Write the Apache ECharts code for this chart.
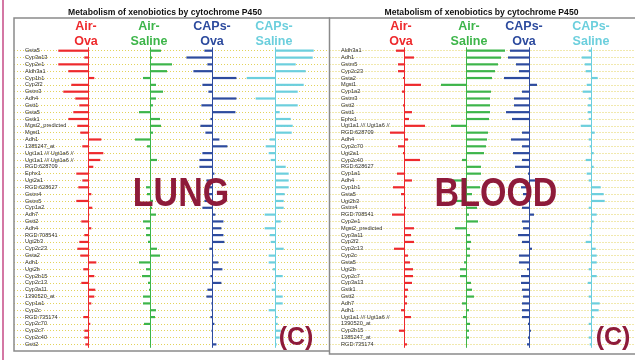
<!DOCTYPE html>
<html><head><meta charset="utf-8">
<script src="https://cdn.jsdelivr.net/npm/echarts@6/dist/echarts.min.js"></script>
<style>html,body{margin:0;padding:0;background:#fff}#c{width:635px;height:360px}</style>
</head><body><div id="c"></div>
<script>
const lungGenes = ['Gsta5','Cyp3a13','Cyp2e1','Aldh3a1','Cyp1b1','Cyp2f2','Gstm3','Adh4','Gstt1','Gsta5','Gstk1','Mgst2_predicted','Mgst1','Adh1','1385247_at','Ugt1a1 /// Ugt1a6 //','Ugt1a1 /// Ugt1a6 //','RGD:628709','Ephx1','Ugt2a1','RGD:628627','Gstm4','Gstm5','Cyp1a2','Adh7','Gstt2','Adh4','RGD:708541','Ugt2b3','Cyp2c23','Gsta2','Adh1','Ugt2b','Cyp2b15','Cyp2c13','Cyp3a11','1390520_at','Cyp1a1','Cyp2c','RGD:735174','Cyp2c70','Cyp2c7','Cyp2c40','Gstt2'];
const lungAirOva = [-3.0,-0.4,-3.0,-2.0,0.6,-1.7,-2.5,-1.3,-0.9,-1.5,-2.0,-1.1,-0.8,1.3,-0.6,1.5,1.2,0.5,-1.2,-0.6,-1.0,0.3,-1.2,0.4,0.1,-0.7,0.3,-0.4,-0.9,-1.1,-0.8,0.8,-0.5,0.6,-0.7,0.7,0.6,0.3,0.1,-0.5,0.2,-0.4,-0.4,-0.3];
const lungAirSaline = [1.1,0.2,2.2,1.7,-0.7,0.6,1.3,0.6,0.3,-1.1,1.0,1.1,0.3,-1.5,-0.3,0.1,0.7,0.1,0.1,0.1,-0.4,-0.3,0.3,0.2,0.6,-0.7,-0.4,-0.4,-0.2,0.7,1.0,-1.1,-0.4,-0.8,-0.2,-0.1,-0.7,-0.7,0.6,0.5,-0.6,0.1,0.1,0.05];
const lungCapsOva = [-0.8,-2.6,-0.5,-1.9,2.4,-1.0,-0.4,2.4,-1.1,2.3,-0.2,-1.2,-0.7,0.7,1.5,-1.0,-1.3,-1.3,0.2,-0.6,-0.6,-0.4,-0.8,-1.0,0.3,1.1,0.9,1.1,1.2,-0.3,0.1,0.6,1.0,-0.2,0.9,-0.5,-0.6,-0.1,-0.1,-0.2,0.2,-0.1,-0.05,0.4];
const lungCapsSaline = [3.8,3.7,2.0,3.0,-2.9,2.8,2.2,-2.0,2.2,0.4,1.5,1.7,1.6,-0.6,-1.0,-0.7,-0.5,1.0,1.3,1.3,1.3,0.9,0.8,0.8,-1.1,0.5,-1.1,-0.6,-0.5,0.8,-0.7,-0.7,-0.3,0.7,-0.2,-0.4,0.7,0.7,-0.7,0.2,0.2,0.5,0.4,0.1];
const bloodGenes = ['Aldh3a1','Adh1','Gstm5','Cyp2c23','Gsta2','Mgst1','Cyp1a2','Gstm3','Gstt2','Gstt1','Ephx1','Ugt1a1 /// Ugt1a6 //','RGD:628709','Adh4','Cyp2c70','Ugt2a1','Cyp2c40','RGD:628627','Cyp1a1','Adh4','Cyp1b1','Gsta5','Ugt2b3','Gstm4','RGD:708541','Cyp2e1','Mgst2_predicted','Cyp3a11','Cyp2f2','Cyp2c13','Cyp2c','Gsta5','Ugt2b','Cyp2c7','Cyp3a13','Gstk1','Gstt2','Adh7','Adh1','Ugt1a1 /// Ugt1a6 //','1390520_at','Cyp2b15','1385247_at','RGD:735174'];
const bloodAirOva = [-0.8,1.0,-0.6,-0.6,-0.1,1.7,-0.2,0.1,-0.1,0.8,0.5,2.1,-1.4,0.4,-0.6,-0.1,1.6,0.1,-0.7,0.8,-1.1,-0.3,0.1,0.2,-1.2,0.1,1.0,0.7,1.0,-1.0,0.4,0.6,0.9,0.9,0.8,0.4,0.3,0.3,-0.3,0.7,0.1,-0.5,0.1,0.3];
const bloodAirSaline = [3.9,3.5,3.2,2.9,2.6,-2.5,2.5,2.4,2.4,2.4,2.3,-1.5,2.2,2.1,2.0,1.8,-0.4,1.5,1.5,-1.4,1.4,0.6,-1.0,1.1,0.3,1.2,-1.1,0.4,0.5,0.4,0.4,-0.2,-0.6,-0.6,0.5,0.6,0.8,-0.4,0.3,-0.3,0.4,0.3,0.3,0.1];
const bloodCapsOva = [-1.9,-2.1,-1.3,-1.0,-2.5,0.8,-0.7,-1.5,-1.5,-2.3,-1.7,0.1,-0.7,-1.8,-0.7,-1.6,-0.7,-1.4,-0.1,0.6,-0.8,-0.6,-0.4,-0.7,0.5,-0.7,-0.6,-1.1,-0.7,0.3,-1.0,-1.0,-0.2,-0.8,-0.8,-0.7,-0.6,-0.7,-0.7,-0.7,-0.1,0.2,-0.1,-0.2];
const bloodCapsSaline = [-0.3,-1.0,-0.7,-0.6,0.6,-0.5,-0.9,-0.3,-0.4,-0.4,-0.3,-1.1,0.3,-0.3,-0.2,0.2,-0.6,0.2,-0.5,-0.3,0.9,1.2,1.3,-0.3,0.5,0.2,-0.2,-0.2,-0.6,0.4,0.5,0.5,-0.3,0.5,-0.4,-0.1,-0.3,0.8,0.7,0.2,-0.3,0.1,-0.3,-0.2];
const groupNames = [['Air-','Ova'],['Air-','Saline'],['CAPs-','Ova'],['CAPs-','Saline']];
const panelTitle = 'Metabolism of xenobiotics by cytochrome P450';
const tissueNames = ['LUNG','BLOOD'];
const panelTag = '(C)';

const colors = ['#EE2A2D','#3DB54A','#2D4B9E','#6CCFDD'];
const FONT = '"Liberation Sans", Arial, sans-serif';
const panels = [
  {genes: lungGenes, series: [lungAirOva, lungAirSaline, lungCapsOva, lungCapsSaline],
   frameX: 14, frameEnd: 330, labelX: 25, base: [88.3,150,212.4,275.7], head: [86,149,212,274], titleX: 165, bigX: 181, tagX: 296, bottom: 351},
  {genes: bloodGenes, series: [bloodAirOva, bloodAirSaline, bloodCapsOva, bloodCapsSaline],
   frameX: 329.5, frameEnd: 635, labelX: 341, base: [404,466,529,591.7], head: [401,469,524,591], titleX: 481.5, bigX: 496, tagX: 613, bottom: 354}
];
const rowStep = 6.83, firstRow = 50.7, nRows = 44;
const grids = [], xAxes = [], yAxes = [], series = [], graphics = [];

graphics.push({type:'line', z:1, shape:{x1:3,y1:0,x2:3,y2:360}, style:{stroke:'#C64A86', lineWidth:1.5}});

panels.forEach((p, pi) => {
  const gi = grids.length;
  grids.push({left: p.frameX, top: firstRow, width: p.frameEnd - p.frameX, height: rowStep*(nRows-1)});
  xAxes.push({type:'value', gridIndex: gi, min:0, max:1, show:false});
  yAxes.push({type:'category', gridIndex: gi, data: p.genes, inverse:true, boundaryGap:false,
    axisLine:{show:false}, axisTick:{show:false},
    splitLine:{show:true, interval:0, lineStyle:{color:'#E3D35C', width:1, type:[1,2]}},
    axisLabel:{inside:true, interval:0, margin: p.labelX - p.frameX, fontSize:5.6, color:'#333', fontFamily: FONT}});
  p.series.forEach((vals, ci) => {
    const g = grids.length;
    grids.push({left: p.base[ci] - 40, width: 80, top: firstRow - rowStep/2, height: rowStep*nRows});
    xAxes.push({type:'value', gridIndex: g, min:-4, max:4, show:false});
    yAxes.push({type:'category', gridIndex: g, data: p.genes, inverse:true, show:false});
    series.push({type:'bar', xAxisIndex: g, yAxisIndex: g, data: vals, barWidth: 2.2, clip:false,
      itemStyle:{color: colors[ci]}, z: 3,
      markLine:{silent:true, symbol:['none','none'], label:{show:false}, animation:false,
        lineStyle:{color: colors[ci], width:1, type:'solid'}, data:[{xAxis:0}]}});
    graphics.push({type:'text', z:5, x: p.head[ci], y: 27, style:{text: groupNames[ci][0], fill: colors[ci], font: 'bold 12.5px ' + FONT, textAlign:'center', textVerticalAlign:'middle'}});
    graphics.push({type:'text', z:5, x: p.head[ci], y: 42, style:{text: groupNames[ci][1], fill: colors[ci], font: 'bold 12.5px ' + FONT, textAlign:'center', textVerticalAlign:'middle'}});
  });
  graphics.push({type:'polyline', z:1, shape:{points:[[p.frameEnd,18],[p.frameX,18],[p.frameX,p.bottom],[p.frameEnd,p.bottom]]}, style:{stroke:'#8a8a8a', lineWidth:1.5, fill:null}});
  graphics.push({type:'text', z:5, x: p.titleX, y: 13, style:{text: panelTitle, fill:'#111', font:'bold 8.6px ' + FONT, textAlign:'center', textVerticalAlign:'middle'}});
  graphics.push({type:'text', z:20, x: p.bigX, y: 195, scaleY: 1.2, style:{text: tissueNames[pi], fill:'#8E1B3A', font:'bold 34px ' + FONT, textAlign:'center', textVerticalAlign:'middle'}});
  graphics.push({type:'text', z:20, x: p.tagX, y: 338, style:{text: panelTag, fill:'#8E1B3A', font:'bold 25px ' + FONT, textAlign:'center', textVerticalAlign:'middle'}});
});

const chart = echarts.init(document.getElementById('c'), null, {renderer:'canvas'});
chart.setOption({animation:false, backgroundColor:'#fff', grid: grids, xAxis: xAxes, yAxis: yAxes, series: series, graphic: graphics});
</script></body></html>
